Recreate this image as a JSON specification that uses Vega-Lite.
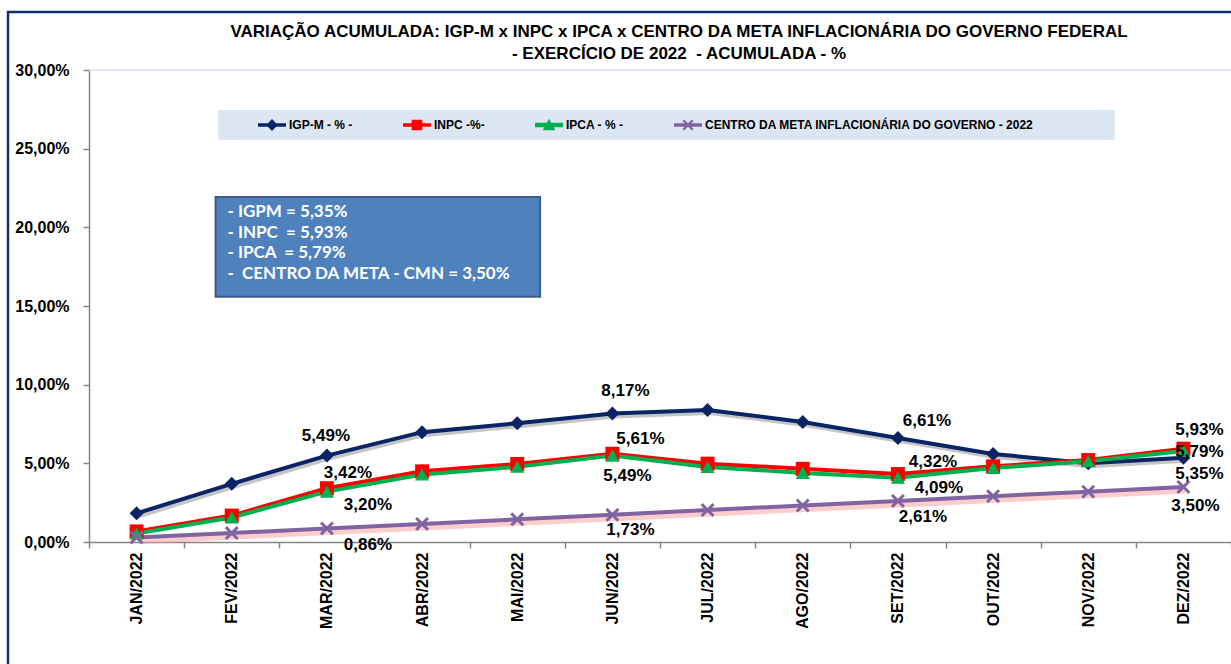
{
  "$schema": "https://vega.github.io/schema/vega-lite/v6.json",
  "width": 1142,
  "height": 472,
  "autosize": {"type": "none"},
  "padding": {"left": 89, "top": 70, "right": 0, "bottom": 122},
  "background": "white",
  "config": {
    "locale": {"number": {"decimal": ",", "thousands": ".", "grouping": [3], "currency": ["R$ ", ""]}},
    "view": {"stroke": null},
    "font": "Liberation Sans"
  },
  "title": {
    "text": ["VARIAÇÃO ACUMULADA: IGP-M x INPC x IPCA x CENTRO DA META INFLACIONÁRIA DO GOVERNO FEDERAL", "- EXERCÍCIO DE 2022 \u00a0- ACUMULADA - %"],
    "fontSize": 17, "fontWeight": "bold", "font": "Liberation Sans", "color": "black",
    "anchor": "middle", "dx": 19, "offset": 4, "dy": 56, "lineHeight": 22
  },
  "data": {"values": [
    {"mes": "JAN/2022", "serie": "IGP-M - % -", "v": 0.0182},
    {"mes": "FEV/2022", "serie": "IGP-M - % -", "v": 0.0370},
    {"mes": "MAR/2022", "serie": "IGP-M - % -", "v": 0.0549},
    {"mes": "ABR/2022", "serie": "IGP-M - % -", "v": 0.0698},
    {"mes": "MAI/2022", "serie": "IGP-M - % -", "v": 0.0755},
    {"mes": "JUN/2022", "serie": "IGP-M - % -", "v": 0.0817},
    {"mes": "JUL/2022", "serie": "IGP-M - % -", "v": 0.0839},
    {"mes": "AGO/2022", "serie": "IGP-M - % -", "v": 0.0763},
    {"mes": "SET/2022", "serie": "IGP-M - % -", "v": 0.0661},
    {"mes": "OUT/2022", "serie": "IGP-M - % -", "v": 0.0560},
    {"mes": "NOV/2022", "serie": "IGP-M - % -", "v": 0.0500},
    {"mes": "DEZ/2022", "serie": "IGP-M - % -", "v": 0.0535},
    {"mes": "JAN/2022", "serie": "INPC -%-", "v": 0.0067},
    {"mes": "FEV/2022", "serie": "INPC -%-", "v": 0.0168},
    {"mes": "MAR/2022", "serie": "INPC -%-", "v": 0.0342},
    {"mes": "ABR/2022", "serie": "INPC -%-", "v": 0.0449},
    {"mes": "MAI/2022", "serie": "INPC -%-", "v": 0.0496},
    {"mes": "JUN/2022", "serie": "INPC -%-", "v": 0.0561},
    {"mes": "JUL/2022", "serie": "INPC -%-", "v": 0.0498},
    {"mes": "AGO/2022", "serie": "INPC -%-", "v": 0.0465},
    {"mes": "SET/2022", "serie": "INPC -%-", "v": 0.0432},
    {"mes": "OUT/2022", "serie": "INPC -%-", "v": 0.0481},
    {"mes": "NOV/2022", "serie": "INPC -%-", "v": 0.0521},
    {"mes": "DEZ/2022", "serie": "INPC -%-", "v": 0.0593},
    {"mes": "JAN/2022", "serie": "IPCA - % -", "v": 0.0054},
    {"mes": "FEV/2022", "serie": "IPCA - % -", "v": 0.0156},
    {"mes": "MAR/2022", "serie": "IPCA - % -", "v": 0.0320},
    {"mes": "ABR/2022", "serie": "IPCA - % -", "v": 0.0429},
    {"mes": "MAI/2022", "serie": "IPCA - % -", "v": 0.0478},
    {"mes": "JUN/2022", "serie": "IPCA - % -", "v": 0.0549},
    {"mes": "JUL/2022", "serie": "IPCA - % -", "v": 0.0477},
    {"mes": "AGO/2022", "serie": "IPCA - % -", "v": 0.0439},
    {"mes": "SET/2022", "serie": "IPCA - % -", "v": 0.0409},
    {"mes": "OUT/2022", "serie": "IPCA - % -", "v": 0.0470},
    {"mes": "NOV/2022", "serie": "IPCA - % -", "v": 0.0513},
    {"mes": "DEZ/2022", "serie": "IPCA - % -", "v": 0.0579},
    {"mes": "JAN/2022", "serie": "CENTRO DA META INFLACIONÁRIA DO GOVERNO - 2022", "v": 0.0029},
    {"mes": "FEV/2022", "serie": "CENTRO DA META INFLACIONÁRIA DO GOVERNO - 2022", "v": 0.0057},
    {"mes": "MAR/2022", "serie": "CENTRO DA META INFLACIONÁRIA DO GOVERNO - 2022", "v": 0.0086},
    {"mes": "ABR/2022", "serie": "CENTRO DA META INFLACIONÁRIA DO GOVERNO - 2022", "v": 0.0115},
    {"mes": "MAI/2022", "serie": "CENTRO DA META INFLACIONÁRIA DO GOVERNO - 2022", "v": 0.0144},
    {"mes": "JUN/2022", "serie": "CENTRO DA META INFLACIONÁRIA DO GOVERNO - 2022", "v": 0.0173},
    {"mes": "JUL/2022", "serie": "CENTRO DA META INFLACIONÁRIA DO GOVERNO - 2022", "v": 0.0203},
    {"mes": "AGO/2022", "serie": "CENTRO DA META INFLACIONÁRIA DO GOVERNO - 2022", "v": 0.0232},
    {"mes": "SET/2022", "serie": "CENTRO DA META INFLACIONÁRIA DO GOVERNO - 2022", "v": 0.0261},
    {"mes": "OUT/2022", "serie": "CENTRO DA META INFLACIONÁRIA DO GOVERNO - 2022", "v": 0.0291},
    {"mes": "NOV/2022", "serie": "CENTRO DA META INFLACIONÁRIA DO GOVERNO - 2022", "v": 0.0320},
    {"mes": "DEZ/2022", "serie": "CENTRO DA META INFLACIONÁRIA DO GOVERNO - 2022", "v": 0.0350}
  ]},
  "layer": [
    {
      "encoding": {
        "x": {"field": "mes", "type": "nominal", "sort": null,
          "scale": {"type": "band", "paddingInner": 0, "paddingOuter": 0},
          "axis": {"title": null, "labelAngle": 270, "labelAlign": "right", "labelBaseline": "middle",
            "labelFont": "Liberation Sans", "labelFontSize": 16, "labelFontWeight": "bold", "labelColor": "black",
            "domainColor": "#868686", "domainWidth": 1.5, "tickColor": "#868686", "tickSize": 6, "tickWidth": 1.5,
            "tickBand": "extent", "labelPadding": 4, "labelOverlap": false, "labelLimit": 200}},
        "y": {"field": "v", "type": "quantitative",
          "scale": {"domain": [0, 0.3], "nice": false},
          "axis": {"title": null, "values": [0, 0.05, 0.1, 0.15, 0.2, 0.25, 0.3], "format": ".2%", "grid": false,
            "labelFont": "Liberation Sans", "labelFontSize": 16, "labelFontWeight": "bold", "labelColor": "black",
            "domainColor": "#868686", "domainWidth": 1.5, "tickColor": "#868686", "tickSize": 6, "tickWidth": 1.5,
            "labelPadding": 14}}
      },
      "layer": [
        {"transform": [{"filter": "datum.serie == 'IGP-M - % -'"}],
         "mark": {"type": "line", "color": "#404040", "opacity": 0.3, "strokeWidth": 4, "xOffset": 2, "yOffset": 3}},
        {"transform": [{"filter": "datum.serie == 'CENTRO DA META INFLACIONÁRIA DO GOVERNO - 2022'"}],
         "mark": {"type": "line", "color": "#FF9A9A", "opacity": 0.5, "strokeWidth": 7, "xOffset": 2, "yOffset": 3}},
        {"mark": {"type": "line"},
         "encoding": {
           "color": {"field": "serie", "type": "nominal", "legend": null,
             "scale": {"domain": ["IGP-M - % -", "INPC -%-", "IPCA - % -", "CENTRO DA META INFLACIONÁRIA DO GOVERNO - 2022"],
               "range": ["#0B2466", "#FF0000", "#00B050", "#8064A2"]}},
           "strokeWidth": {"field": "serie", "type": "nominal", "legend": null,
             "scale": {"domain": ["IGP-M - % -", "INPC -%-", "IPCA - % -", "CENTRO DA META INFLACIONÁRIA DO GOVERNO - 2022"],
               "range": [4, 4, 6.5, 4]}}
         }},
        {"mark": {"type": "point", "filled": true, "opacity": 1, "strokeWidth": 0},
         "encoding": {
           "color": {"field": "serie", "type": "nominal", "legend": null},
           "shape": {"field": "serie", "type": "nominal", "legend": null,
             "scale": {"domain": ["IGP-M - % -", "INPC -%-", "IPCA - % -", "CENTRO DA META INFLACIONÁRIA DO GOVERNO - 2022"],
               "range": ["diamond", "square", "triangle-up", "M-1,-0.7L-0.7,-1L0,-0.3L0.7,-1L1,-0.7L0.3,0L1,0.7L0.7,1L0,0.3L-0.7,1L-1,0.7L-0.3,0Z"]}},
           "size": {"field": "serie", "type": "nominal", "legend": null,
             "scale": {"domain": ["IGP-M - % -", "INPC -%-", "IPCA - % -", "CENTRO DA META INFLACIONÁRIA DO GOVERNO - 2022"],
               "range": [196, 196, 225, 225]}}
         }},
        {"transform": [{"filter": "datum.serie == 'IGP-M - % -' && indexof(['MAR/2022','JUN/2022','SET/2022','DEZ/2022'], datum.mes) >= 0"}],
         "mark": {"type": "text", "font": "Liberation Sans", "fontSize": 17, "fontWeight": "bold", "color": "black", "align": "center", "baseline": "middle",
           "dx": {"expr": "datum.mes == 'MAR/2022' ? -1 : datum.mes == 'JUN/2022' ? 13 : datum.mes == 'SET/2022' ? 29 : 16"},
           "dy": {"expr": "datum.mes == 'MAR/2022' ? -20 : datum.mes == 'JUN/2022' ? -22 : datum.mes == 'SET/2022' ? -17 : 16"}},
         "encoding": {"text": {"field": "v", "type": "quantitative", "format": ".2%"}}},
        {"transform": [{"filter": "datum.serie == 'INPC -%-' && indexof(['MAR/2022','JUN/2022','SET/2022','DEZ/2022'], datum.mes) >= 0"}],
         "mark": {"type": "text", "font": "Liberation Sans", "fontSize": 17, "fontWeight": "bold", "color": "black", "align": "center", "baseline": "middle",
           "dx": {"expr": "datum.mes == 'MAR/2022' ? 21 : datum.mes == 'JUN/2022' ? 28 : datum.mes == 'SET/2022' ? 35 : 16"},
           "dy": {"expr": "datum.mes == 'MAR/2022' ? -15 : datum.mes == 'JUN/2022' ? -15 : datum.mes == 'SET/2022' ? -12 : -19"}},
         "encoding": {"text": {"field": "v", "type": "quantitative", "format": ".2%"}}},
        {"transform": [{"filter": "datum.serie == 'IPCA - % -' && indexof(['MAR/2022','JUN/2022','SET/2022','DEZ/2022'], datum.mes) >= 0"}],
         "mark": {"type": "text", "font": "Liberation Sans", "fontSize": 17, "fontWeight": "bold", "color": "black", "align": "center", "baseline": "middle",
           "dx": {"expr": "datum.mes == 'MAR/2022' ? 41 : datum.mes == 'JUN/2022' ? 15 : datum.mes == 'SET/2022' ? 41 : 16"},
           "dy": {"expr": "datum.mes == 'MAR/2022' ? 13 : datum.mes == 'JUN/2022' ? 20 : datum.mes == 'SET/2022' ? 10 : 1"}},
         "encoding": {"text": {"field": "v", "type": "quantitative", "format": ".2%"}}},
        {"transform": [{"filter": "datum.serie == 'CENTRO DA META INFLACIONÁRIA DO GOVERNO - 2022' && indexof(['MAR/2022','JUN/2022','SET/2022','DEZ/2022'], datum.mes) >= 0"}],
         "mark": {"type": "text", "font": "Liberation Sans", "fontSize": 17, "fontWeight": "bold", "color": "black", "align": "center", "baseline": "middle",
           "dx": {"expr": "datum.mes == 'MAR/2022' ? 41 : datum.mes == 'JUN/2022' ? 18 : datum.mes == 'SET/2022' ? 25 : 12"},
           "dy": {"expr": "datum.mes == 'MAR/2022' ? 17 : datum.mes == 'JUN/2022' ? 15 : datum.mes == 'SET/2022' ? 16 : 19"}},
         "encoding": {"text": {"field": "v", "type": "quantitative", "format": ".2%"}}}
      ]
    },
    {
      "data": {"values": [{"nota": "- IGPM = 5,35%\n- INPC \u00a0= 5,93%\n- IPCA \u00a0= 5,79%\n- \u00a0CENTRO DA META - CMN = 3,50%"}]},
      "layer": [
        {"mark": {"type": "rule", "color": "#D6DFEC", "strokeWidth": 1.5},
         "encoding": {
           "x": {"datum": 0, "type": "quantitative", "scale": {"domain": [0, 12], "nice": false, "zero": false}, "axis": null},
           "x2": {"datum": 12},
           "y": {"datum": 0.3, "type": "quantitative", "scale": {"domain": [0, 0.3], "nice": false}, "axis": null}}},
        {"mark": {"type": "rect", "fill": "#DCE6F2", "strokeWidth": 0},
         "encoding": {
           "x": {"datum": 1.358, "type": "quantitative"},
           "x2": {"datum": 10.78},
           "y": {"datum": 0.2746, "type": "quantitative"},
           "y2": {"datum": 0.2556}}},
        {"mark": {"type": "rect", "fill": "#4F81BD", "stroke": "#385D8A", "strokeWidth": 2},
         "encoding": {
           "x": {"datum": 1.33, "type": "quantitative"},
           "x2": {"datum": 4.74},
           "y": {"datum": 0.2193, "type": "quantitative"},
           "y2": {"datum": 0.1558}}},
        {"mark": {"type": "text", "font": "Lato", "fontSize": 17, "fontWeight": "bold", "color": "white", "align": "left", "baseline": "middle", "lineBreak": "\n", "lineHeight": 20.7},
         "encoding": {
           "x": {"datum": 1.455, "type": "quantitative"},
           "y": {"datum": 0.2097, "type": "quantitative"},
           "text": {"field": "nota", "type": "nominal"}}},
        {"mark": {"type": "rect", "fill": null, "fillOpacity": 0, "stroke": "#12306E", "strokeWidth": 2.5},
         "encoding": {
           "x": {"datum": -0.851, "type": "quantitative"},
           "x2": {"datum": 12.8},
           "y": {"datum": 0.3369, "type": "quantitative"},
           "y2": {"datum": -0.2}}}
      ]
    },
    {
      "mark": {"type": "point", "filled": true, "opacity": 0},
      "encoding": {
        "color": {"field": "serie", "type": "nominal",
          "scale": {"domain": ["IGP-M - % -", "INPC -%-", "IPCA - % -", "CENTRO DA META INFLACIONÁRIA DO GOVERNO - 2022"],
            "range": ["#0B2466", "#FF0000", "#00B050", "#8064A2"]},
          "legend": {"orient": "none", "legendX": 169, "legendY": 41, "direction": "horizontal", "title": null,
            "labelFont": "Liberation Sans", "labelFontSize": 12, "labelFontWeight": "bold", "labelColor": "black",
            "symbolSize": 784, "symbolOpacity": 1, "symbolStrokeWidth": 0, "columnPadding": 50, "labelOffset": 3, "labelLimit": 500, "padding": 0}},
        "shape": {"field": "serie", "type": "nominal",
          "scale": {"domain": ["IGP-M - % -", "INPC -%-", "IPCA - % -", "CENTRO DA META INFLACIONÁRIA DO GOVERNO - 2022"],
            "range": [
              "M-1,-0.12H1V0.12H-1Z M0,-0.42L0.42,0L0,0.42L-0.42,0Z",
              "M-1,-0.13H1V0.13H-1Z M-0.38,-0.38H0.38V0.38H-0.38Z",
              "M-1,-0.16H1V0.16H-1Z M0,-0.45L0.45,0.38H-0.45Z",
              "M-1,-0.12H1V0.12H-1Z M-0.4,-0.28L-0.28,-0.4L0,-0.12L0.28,-0.4L0.4,-0.28L0.12,0L0.4,0.28L0.28,0.4L0,0.12L-0.28,0.4L-0.4,0.28L-0.12,0Z"]},
          "legend": {"orient": "none", "legendX": 169, "legendY": 41, "direction": "horizontal", "title": null,
            "labelFont": "Liberation Sans", "labelFontSize": 12, "labelFontWeight": "bold", "labelColor": "black",
            "symbolSize": 784, "symbolOpacity": 1, "symbolStrokeWidth": 0, "columnPadding": 50, "labelOffset": 3, "labelLimit": 500, "padding": 0}}
      }
    }
  ],
  "resolve": {
    "scale": {"x": "independent", "y": "independent", "color": "independent", "shape": "independent"},
    "axis": {"x": "independent", "y": "independent"}
  }
}
